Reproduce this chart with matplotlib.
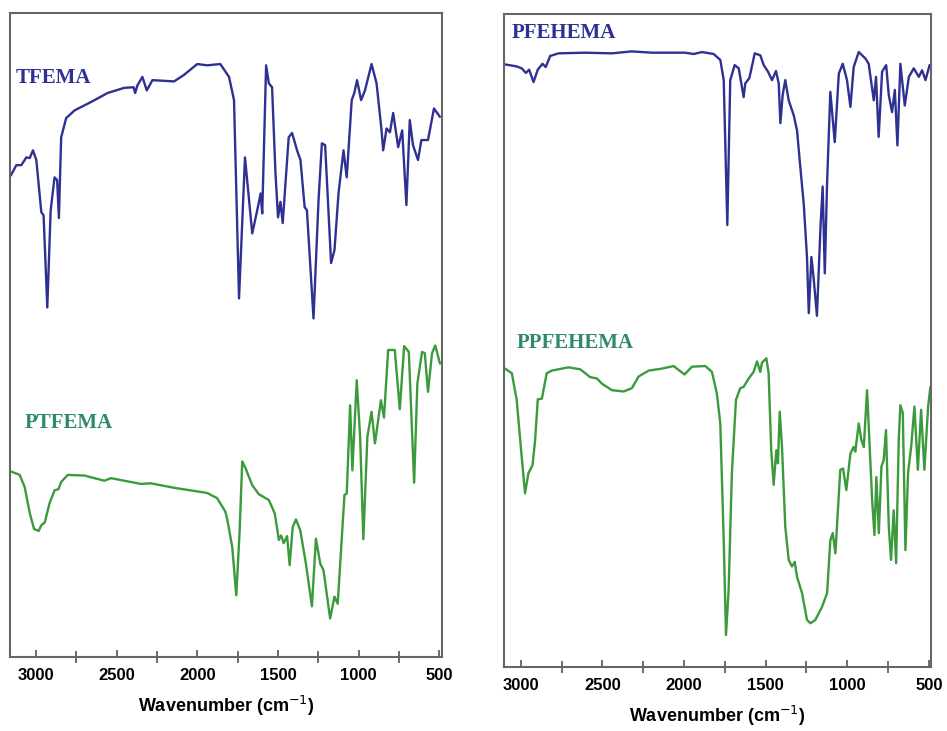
import matplotlib
matplotlib.use('Agg')
import matplotlib.pyplot as plt
from matplotlib.ticker import MultipleLocator

# FTIR spectra (wavenumber in cm-1, transmittance in a.u.)
tfema_wn = [3156, 3122, 3091, 3060, 3039, 3019, 2998, 2967, 2953, 2930, 2909, 2885, 2869, 2858,
            2844, 2813, 2761, 2659, 2556, 2453, 2395, 2385, 2371, 2340, 2313, 2278, 2144, 2083,
            2000, 1939, 1857, 1803, 1772, 1741, 1704, 1659, 1628, 1607, 1597, 1573, 1556, 1536,
            1515, 1499, 1484, 1470, 1433, 1412, 1381, 1360, 1334, 1320, 1279, 1248, 1227, 1207,
            1170, 1149, 1124, 1093, 1073, 1042, 1026, 1009, 984, 960, 919, 888, 857, 847, 826,
            805, 785, 754, 729, 703, 682, 662, 631, 610, 569, 532, 495]
tfema_t = [74.8, 76.4, 76.4, 77.6, 77.5, 78.7, 77.2, 69.1, 68.6, 54.3, 69.4, 74.5, 74.1, 68.2,
           80.7, 83.7, 84.9, 86.2, 87.6, 88.4, 88.5, 87.6, 88.8, 90.1, 88.0, 89.6, 89.4, 90.4,
           92.1, 91.9, 92.1, 90.1, 86.5, 55.7, 77.6, 65.8, 69.4, 72.0, 68.9, 91.9, 89.1, 88.5,
           75.2, 68.3, 70.7, 67.4, 80.7, 81.4, 78.7, 77.2, 69.9, 69.4, 52.6, 70.9, 79.8, 79.5,
           61.2, 63.2, 72.0, 78.7, 74.5, 86.5, 87.6, 89.6, 86.5, 88.0, 92.1, 89.1, 81.8, 78.7, 82.1,
           81.5, 84.5, 79.2, 81.8, 70.2, 83.4, 79.5, 77.2, 80.3, 80.3, 85.2, 83.9]

ptfema_wn = [3152, 3101, 3070, 3039, 3012, 2983, 2967, 2946, 2916, 2885, 2860, 2844, 2803, 2700,
             2576, 2535, 2350, 2289, 2144, 1939, 1877, 1826, 1813, 1783, 1758, 1737, 1721, 1700,
             1659, 1618, 1556, 1519, 1494, 1480, 1464, 1443, 1427, 1408, 1388, 1361, 1326, 1289,
             1264, 1237, 1217, 1176, 1149, 1129, 1087, 1073, 1052, 1038, 1011, 990, 970, 945, 919,
             898, 861, 842, 816, 775, 744, 717, 688, 655, 635, 606, 589, 569, 544, 524, 495]
ptfema_t = [28.8, 28.3, 26.4, 22.4, 19.9, 19.6, 20.5, 20.9, 23.9, 25.9, 26.1, 27.2, 28.3, 28.2,
            27.4, 27.8, 26.9, 27.0, 26.3, 25.5, 24.7, 22.6, 21.3, 17.1, 9.6, 19.7, 30.4, 29.3,
            26.7, 25.3, 24.4, 22.3, 18.2, 18.9, 17.7, 18.8, 14.3, 20.2, 21.4, 19.7, 14.5, 7.9,
            18.4, 14.5, 13.5, 6.0, 9.4, 8.3, 25.2, 25.4, 39.1, 29.0, 43.0, 34.2, 18.3, 34.2, 38.1,
            33.2, 39.9, 37.2, 47.7, 47.7, 38.5, 48.3, 47.4, 27.1, 42.5, 47.4, 47.2, 41.2, 47.2, 48.4, 45.6]

pfehema_wn = [3096, 3025, 2994, 2969, 2949, 2922, 2896, 2867, 2847, 2820, 2769, 2606, 2442, 2320,
              2197, 1993, 1941, 1890, 1819, 1778, 1757, 1735, 1717, 1690, 1665, 1635, 1625, 1600,
              1567, 1533, 1512, 1486, 1461, 1437, 1420, 1410, 1396, 1380, 1359, 1328, 1308, 1288,
              1267, 1247, 1236, 1220, 1206, 1186, 1165, 1151, 1138, 1124, 1104, 1077, 1052, 1028,
              1002, 981, 961, 930, 889, 869, 838, 824, 808, 787, 762, 746, 726, 709, 693, 675, 648,
              623, 593, 562, 542, 521, 496]
pfehema_t = [92.3, 92.0, 91.7, 91.0, 91.5, 89.6, 91.5, 92.4, 91.9, 93.6, 94.0, 94.1, 94.0, 94.3,
             94.1, 94.1, 93.9, 94.2, 93.9, 93.0, 89.9, 67.7, 89.9, 92.2, 91.7, 87.3, 89.4, 90.2,
             94.0, 93.7, 92.2, 91.2, 89.9, 91.3, 89.4, 83.3, 87.6, 89.9, 86.8, 84.5, 82.2, 76.6,
             71.0, 62.8, 54.2, 62.8, 59.5, 53.8, 67.0, 73.6, 60.3, 74.1, 88.1, 80.4, 90.9, 92.4,
             89.9, 85.8, 91.9, 94.2, 93.2, 92.4, 86.8, 90.4, 81.2, 91.2, 92.2, 87.6, 85.0, 88.4,
             79.9, 92.4, 86.0, 90.4, 91.7, 90.4, 91.4, 89.9, 92.2]

ppfehema_wn = [3096, 3055, 3025, 2998, 2974, 2953, 2928, 2912, 2896, 2871, 2841, 2810, 2708, 2636,
               2575, 2534, 2503, 2442, 2370, 2320, 2278, 2217, 2136, 2064, 1997, 1952, 1870, 1829,
               1799, 1778, 1757, 1743, 1727, 1707, 1682, 1656, 1635, 1604, 1574, 1553, 1533, 1523,
               1496, 1482, 1466, 1451, 1435, 1425, 1414, 1400, 1380, 1359, 1339, 1322, 1308, 1277,
               1247, 1226, 1196, 1155, 1124, 1104, 1089, 1073, 1043, 1026, 1006, 981, 961, 951, 930,
               914, 899, 879, 865, 848, 834, 822, 807, 791, 777, 763, 746, 732, 716, 701, 685, 675,
               660, 644, 628, 609, 589, 568, 548, 528, 505, 491]
ppfehema_t = [45.7, 45.0, 40.9, 33.2, 26.6, 29.7, 30.9, 34.8, 41.0, 41.1, 45.0, 45.4, 45.9, 45.6,
              44.4, 44.2, 43.4, 42.4, 42.2, 42.7, 44.5, 45.4, 45.7, 46.1, 44.8, 46.0, 46.1, 45.2,
              41.9, 37.3, 19.4, 4.9, 11.8, 29.7, 40.9, 42.7, 42.9, 44.2, 45.2, 46.8, 45.2, 46.6,
              47.3, 45.0, 33.2, 27.9, 33.2, 31.2, 39.1, 33.7, 21.5, 16.4, 15.4, 16.1, 13.8, 11.3,
              7.2, 6.7, 7.2, 9.2, 11.3, 19.4, 20.5, 17.4, 30.2, 30.4, 27.1, 32.7, 33.7, 33.0, 37.3,
              34.8, 33.7, 42.4, 34.8, 25.6, 20.2, 29.1, 20.5, 30.7, 31.7, 36.3, 21.5, 16.4, 24.0,
              15.9, 34.8, 40.1, 38.9, 17.9, 29.7, 33.7, 39.9, 30.2, 39.4, 30.2, 39.9, 42.9]

blue = '#2e3192'
green_line = '#3b9a3b'
green_text = '#2e8b66'
label_font = dict(family='Liberation Serif', fontweight='bold', fontsize=15)
line_style = dict(lw=1.7, solid_joinstyle='round', solid_capstyle='round')

fig = plt.figure(figsize=(9.47, 7.31), dpi=100)
ax1 = fig.add_axes([0.0106, 0.101, 0.456, 0.881])
ax2 = fig.add_axes([0.532, 0.0876, 0.451, 0.893])

ax1.plot(tfema_wn, tfema_t, color=blue, **line_style)
ax1.plot(ptfema_wn, ptfema_t, color=green_line, **line_style)
ax2.plot(pfehema_wn, pfehema_t, color=blue, **line_style)
ax2.plot(ppfehema_wn, ppfehema_t, color=green_line, **line_style)

ax1.text(0.014, 0.90, 'TFEMA', color=blue, transform=ax1.transAxes, va='center', **label_font)
ax1.text(0.034, 0.363, 'PTFEMA', color=green_text, transform=ax1.transAxes, va='center', **label_font)
ax2.text(0.019, 0.971, 'PFEHEMA', color=blue, transform=ax2.transAxes, va='center', **label_font)
ax2.text(0.030, 0.496, 'PPFEHEMA', color=green_text, transform=ax2.transAxes, va='center', **label_font)

ax1.set_xlim(3161, 483)
ax2.set_xlim(3104, 488)
for ax in (ax1, ax2):
    ax.set_ylim(0, 100)
    ax.set_yticks([])
    ax.xaxis.set_major_locator(MultipleLocator(500))
    ax.xaxis.set_minor_locator(MultipleLocator(250))
    ax.tick_params(axis='x', which='major', direction='in', length=5, width=1.2,
                   color='#555555', pad=8)
    ax.tick_params(axis='x', which='minor', direction='inout', length=8, width=1.2,
                   color='#555555')
    for lbl in ax.get_xticklabels():
        lbl.set_family('Liberation Sans')
        lbl.set_fontweight('bold')
        lbl.set_fontsize(12)
    for s in ax.spines.values():
        s.set_color('#666666')
        s.set_linewidth(1.5)
    ax.set_xlabel('Wavenumber (cm$^{-1}$)', family='Liberation Sans', fontweight='bold',
                  fontsize=13, labelpad=8)

fig.savefig('out.png', dpi=100, facecolor='white')
